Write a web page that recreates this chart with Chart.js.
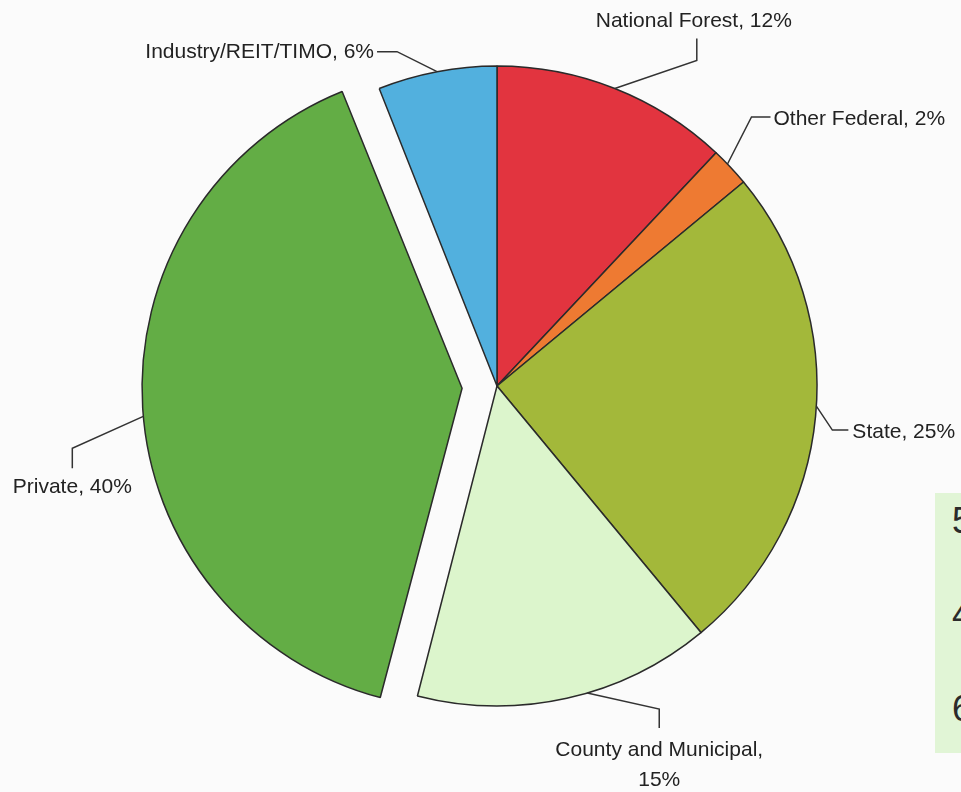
<!DOCTYPE html>
<html>
<head>
<meta charset="utf-8">
<script src="https://cdn.jsdelivr.net/npm/chart.js@4"></script>
<style>
  html, body { margin: 0; padding: 0; background: #fbfbfb; }
  .wrap { position: relative; width: 961px; height: 792px; overflow: hidden; }
  /* edge of the neighbouring figure, cut off on the right */
  .side-box {
    position: absolute; left: 935px; top: 493px; width: 40px; height: 260px;
    background: #e1f5d6; font-family: "Liberation Sans", Arial, sans-serif;
    font-size: 36px; color: #2b2b2b;
  }
  .side-box span { position: absolute; left: 17px; }
</style>
</head>
<body>
<div class="wrap">
  <canvas id="myChart" width="961" height="792"></canvas>
  <div class="side-box">
    <span style="top:7px">5</span>
    <span style="top:101px">4</span>
    <span style="top:195px">6</span>
  </div>
</div>
<script>
// data
const categories = ["National Forest", "Other Federal", "State", "County and Municipal", "Private", "Industry/REIT/TIMO"];
const shares = [12, 2, 25, 15, 40, 6];
const sliceColors = ['#e2343f', '#ee7a32', '#a3b83a', '#dcf5cc', '#63ad45', '#52b0de'];
const explode = [0, 0, 0, 0, 35, 0];   // px the slice is pulled out

const RADIUS = 320;

// leader layout: where on the arc (0..1), elbow, tail, text spot
const leaders = [
  { at: 0.5,  elbow: [82, -28], tail: [0, -22], text: [-3, -11], align: 'center' },
  { at: 0.4,  elbow: [24, -47], tail: [19, 0],  text: [3, 8],    align: 'left' },
  { at: 0.48, elbow: [16, 24],  tail: [16, 0],  text: [4, 8],    align: 'left' },
  { at: 0.43, elbow: [72, 16],  tail: [0, 19],  text: [0, 28],   align: 'center', wrap: true },
  { at: 0.49, elbow: [-71, 32], tail: [0, 20],  text: [0, 25],   align: 'center' },
  { at: 0.5,  elbow: [-40, -20], tail: [-20, 0], text: [-3, 6],  align: 'right' }
];

// chart.js grows an offset arc's radius, pull it back so every slice has the same radius
const fixExploded = {
  id: 'fixExploded',
  beforeDatasetsDraw(chart) {
    chart.getDatasetMeta(0).data.forEach(function(arc) {
      const off = (arc.options.offset || 0) / 4;
      const fix = 1 - Math.sin(Math.min(Math.PI, arc.circumference));
      arc.outerRadius = RADIUS - off * fix;
    });
  }
};

const leaderLabels = {
  id: 'leaderLabels',
  afterDatasetsDraw(chart) {
    const ctx = chart.ctx;
    const meta = chart.getDatasetMeta(0);
    ctx.save();
    ctx.strokeStyle = '#333';
    ctx.lineWidth = 1.5;
    ctx.fillStyle = '#222';
    ctx.font = '21px "Liberation Sans", Arial, sans-serif';
    ctx.textBaseline = 'alphabetic';
    meta.data.forEach(function(arc, i) {
      const lay = leaders[i];
      const off = (arc.options.offset || 0) / 4;
      const half = (arc.startAngle + arc.endAngle) / 2;
      const cx = arc.x + Math.cos(half) * off;
      const cy = arc.y + Math.sin(half) * off;
      const a = arc.startAngle + lay.at * (arc.endAngle - arc.startAngle);
      const ax = cx + Math.cos(a) * RADIUS;
      const ay = cy + Math.sin(a) * RADIUS;
      const ex = ax + lay.elbow[0], ey = ay + lay.elbow[1];
      const tx = ex + lay.tail[0], ty = ey + lay.tail[1];
      ctx.beginPath();
      ctx.moveTo(ax, ay);
      ctx.lineTo(ex, ey);
      ctx.lineTo(tx, ty);
      ctx.stroke();

      ctx.textAlign = lay.align;
      const label = categories[i] + ', ' + shares[i] + '%';
      if (lay.wrap) {
        ctx.fillText(categories[i] + ',', tx + lay.text[0], ty + lay.text[1]);
        ctx.fillText(shares[i] + '%', tx + lay.text[0], ty + lay.text[1] + 30);
      } else {
        ctx.fillText(label, tx + lay.text[0], ty + lay.text[1]);
      }
    });
    ctx.restore();
  }
};

const ctx = document.getElementById('myChart').getContext('2d');

const chart = new Chart(ctx, {
  type: 'pie',
  data: {
    labels: categories,
    datasets: [{
      data: shares,
      backgroundColor: sliceColors,
      borderColor: '#2a2a2a',
      borderWidth: 1.5,
      offset: explode.map(function(v) { return v * 4; })
    }]
  },
  options: {
    responsive: false,
    devicePixelRatio: 1,
    animation: false,
    events: [],
    radius: RADIUS,
    layout: { padding: { left: 40, right: 7, top: 10, bottom: 30 } },
    plugins: {
      legend: { display: false },
      tooltip: { enabled: false }
    }
  },
  plugins: [fixExploded, leaderLabels]
});
</script>
</body>
</html>
